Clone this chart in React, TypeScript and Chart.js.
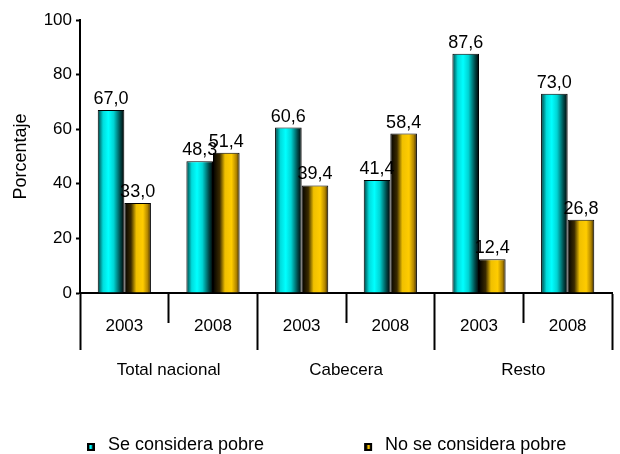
import React, { useEffect, useRef } from 'react';
import { Chart, registerables } from 'chart.js';

Chart.register(...registerables);

const years = ['2003', '2008', '2003', '2008', '2003', '2008'];
const groups = ['Total nacional', 'Cabecera', 'Resto'];
const seriesNames = ['Se considera pobre', 'No se considera pobre'];
const pobre = [67.0, 48.3, 60.6, 41.4, 87.6, 73.0];
const noPobre = [33.0, 51.4, 39.4, 58.4, 12.4, 26.8];
const yMin = 0;
const yMax = 100;
const yStep = 20;

const FONT = "'Liberation Sans', Arial, Helvetica, sans-serif";

const cyanStops: [number, string][] = [
  [0, '#003c3c'],
  [0.2, '#00dcdc'],
  [0.4, '#00ffff'],
  [0.6, '#00d4d4'],
  [0.85, '#004848'],
  [1, '#000000'],
];
const yellowStops: [number, string][] = [
  [0, '#000000'],
  [0.25, '#3a2a00'],
  [0.45, '#f0c000'],
  [0.7, '#ffcc00'],
  [0.88, '#b08400'],
  [1, '#302000'],
];

function makeIcon(stops: [number, string][]) {
  const c = document.createElement('canvas');
  c.width = 102;
  c.height = 14;
  const g = c.getContext('2d')!;
  g.fillStyle = '#000';
  g.fillRect(90, 5, 8, 8);
  const gr = g.createLinearGradient(92, 0, 96, 0);
  stops.forEach(([o, col]) => gr.addColorStop(o, col));
  g.fillStyle = gr;
  g.fillRect(92, 7, 4, 4);
  return c;
}

const gradientPlugin = {
  id: 'barGradient',
  beforeDatasetsDraw(chart: any) {
    const ctx = chart.ctx;
    chart.data.datasets.forEach((_ds: any, di: number) => {
      const meta = chart.getDatasetMeta(di);
      const stops = di === 0 ? cyanStops : yellowStops;
      meta.data.forEach((el: any) => {
        const { x, width } = el.getProps(['x', 'width'], true);
        if (!isFinite(x) || !isFinite(width)) return;
        const g = ctx.createLinearGradient(x - width / 2, 0, x + width / 2, 0);
        stops.forEach(([o, col]) => g.addColorStop(o, col));
        try {
          el.options.backgroundColor = g;
        } catch (e) {
          /* ignore */
        }
      });
    });
  },
};

const valueLabelPlugin = {
  id: 'valueLabels',
  afterDatasetsDraw(chart: any) {
    const ctx = chart.ctx;
    ctx.save();
    ctx.font = `18px ${FONT}`;
    ctx.fillStyle = '#000';
    ctx.textAlign = 'center';
    ctx.textBaseline = 'alphabetic';
    chart.data.datasets.forEach((ds: any, di: number) => {
      chart.getDatasetMeta(di).data.forEach((el: any, i: number) => {
        const { x, y } = el.getProps(['x', 'y'], true);
        ctx.fillText(Number(ds.data[i]).toFixed(1).replace('.', ','), x, y - 6);
      });
    });
    ctx.restore();
  },
};

export default function App() {
  const ref = useRef<HTMLCanvasElement>(null);

  useEffect(() => {
    if (!ref.current) return;
    const iconCyan = makeIcon(cyanStops);
    const iconYellow = makeIcon(yellowStops);
    const font = { family: FONT, size: 17 };
    const chart = new Chart(ref.current, {
      type: 'bar',
      data: {
        labels: years,
        datasets: [
          {
            label: seriesNames[0],
            data: pobre,
            backgroundColor: () => '#00d8d8',
            borderColor: '#000',
            borderWidth: 1,
            categoryPercentage: 0.6,
            barPercentage: 1,
            xAxisID: 'x',
            yAxisID: 'y',
          },
          {
            label: seriesNames[1],
            data: noPobre,
            backgroundColor: () => '#ffcc00',
            borderColor: '#000',
            borderWidth: 1,
            categoryPercentage: 0.6,
            barPercentage: 1,
            xAxisID: 'x',
            yAxisID: 'y',
          },
        ],
      },
      options: {
        responsive: false,
        animation: false,
        events: [],
        layout: { padding: { left: -13, right: 8, top: 20, bottom: 0 } },
        plugins: {
          tooltip: { enabled: false },
          legend: {
            display: true,
            position: 'bottom',
            align: 'start',
            maxHeight: 28,
            labels: {
              usePointStyle: true,
              pointStyleWidth: 102,
              padding: 10,
              color: '#000',
              font: { family: FONT, size: 18 },
              generateLabels: () => [
                {
                  text: seriesNames[0],
                  pointStyle: iconCyan,
                  fillStyle: 'rgba(0,0,0,0)',
                  strokeStyle: 'rgba(0,0,0,0)',
                  lineWidth: 0,
                  hidden: false,
                  datasetIndex: 0,
                  fontColor: '#000',
                },
                {
                  text: seriesNames[1],
                  pointStyle: iconYellow,
                  fillStyle: 'rgba(0,0,0,0)',
                  strokeStyle: 'rgba(0,0,0,0)',
                  lineWidth: 0,
                  hidden: false,
                  datasetIndex: 1,
                  fontColor: '#000',
                },
              ],
            },
          },
        },
        scales: {
          x: {
            type: 'category',
            position: 'bottom',
            offset: true,
            weight: 0,
            grid: {
              display: true,
              offset: true,
              drawOnChartArea: false,
              drawTicks: true,
              tickLength: 57,
              tickWidth: 2,
              tickColor: '#000',
              tickBorderDash: (ctx: any) =>
                typeof ctx.index === 'number' && ctx.index % 2 === 1 ? [29, 200] : [],
            },
            border: { display: true, color: '#000', width: 2 },
            ticks: { color: '#000', font, padding: -34, maxRotation: 0, autoSkip: false },
            afterFit: (s: any) => {
              s.height = 57;
            },
          },
          x2: {
            type: 'category',
            position: 'bottom',
            labels: groups,
            offset: true,
            weight: 1,
            grid: { display: false, drawTicks: false },
            border: { display: false },
            ticks: { color: '#000', font, padding: 10, maxRotation: 0, autoSkip: false },
            afterFit: (s: any) => {
              s.height = 76;
            },
          },
          y: {
            min: yMin,
            max: yMax,
            ticks: { stepSize: yStep, color: '#000', font, padding: 4 },
            grid: {
              drawOnChartArea: false,
              drawTicks: true,
              tickLength: 4,
              tickWidth: 2,
              tickColor: '#000',
            },
            border: { display: true, color: '#000', width: 2 },
            title: {
              display: true,
              text: 'Porcentaje',
              color: '#000',
              font: { family: FONT, size: 18 },
              padding: { top: 23, bottom: 0 },
            },
            afterFit: (s: any) => {
              s.width = 93;
            },
          },
        },
      } as any,
      plugins: [gradientPlugin, valueLabelPlugin],
    });
    return () => chart.destroy();
  }, []);

  return (
    <div style={{ position: 'absolute', left: 0, top: 0, width: 620, height: 454 }}>
      <canvas ref={ref} width={620} height={454} style={{ display: 'block' }} />
    </div>
  );
}
